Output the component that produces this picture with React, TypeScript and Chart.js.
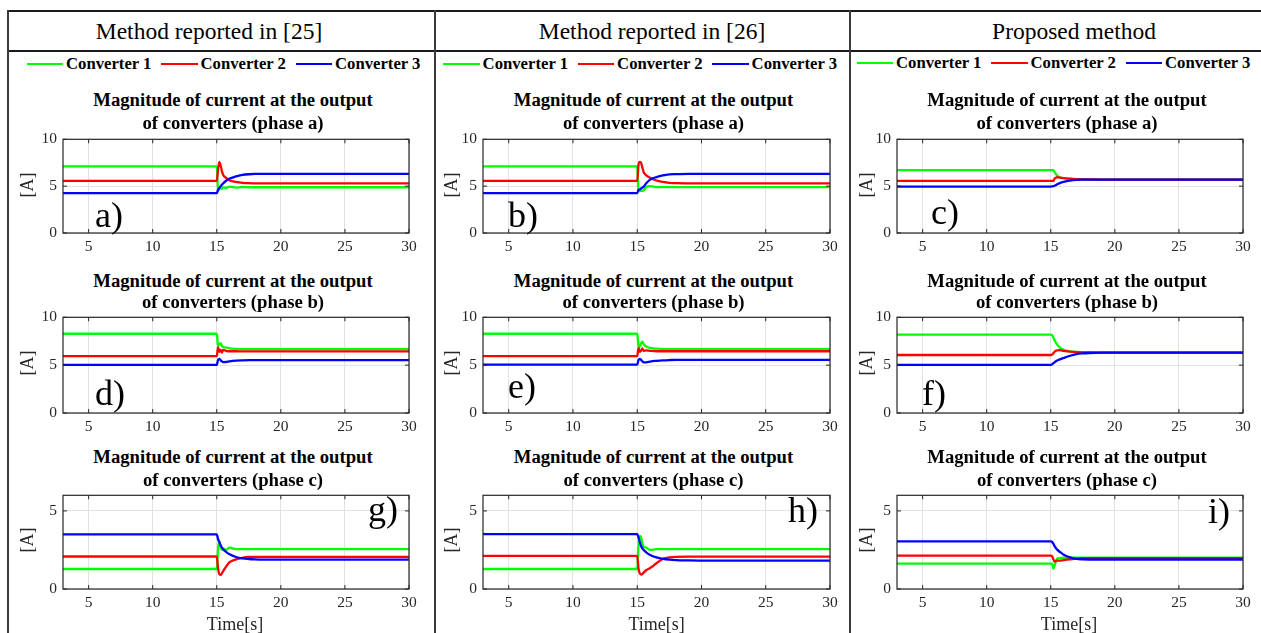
import React, { useEffect, useRef } from "react";
import { Chart, registerables } from "chart.js";

Chart.register(...registerables);

// ---------- data ----------
const TIME = [3, 15, 15.1, 15.2, 15.3, 15.4, 15.5, 15.7, 16, 16.5, 17, 17.5, 18, 19, 20, 30];
const X_TICKS = [5, 10, 15, 20, 25, 30];
const Y_TICKS_AB = [0, 5, 10];
const Y_TICKS_C = [0, 5];
const SERIES_NAMES = ["Converter 1", "Converter 2", "Converter 3"];
const COLUMN_HEADERS = ["Method reported in [25]", "Method reported in [26]", "Proposed method"];
const PHASE_TITLES = [
  ["Magnitude of current at the output", "of converters (phase a)"],
  ["Magnitude of current at the output", "of converters (phase b)"],
  ["Magnitude of current at the output", "of converters (phase c)"],
];
const PANEL_LETTERS = ["a)", "b)", "c)", "d)", "e)", "f)", "g)", "h)", "i)"];
const Y_LABEL = "[A]";
const X_LABEL = "Time[s]";

// panel a (method [25], phase a)
const A_CONV1 = [7.1, 7.1, 4.5, 4.7, 4.95, 4.7, 4.9, 4.8, 4.95, 4.85, 4.9, 4.88, 4.88, 4.88, 4.88, 4.88];
const A_CONV2 = [5.56, 5.56, 6.8, 7.6, 7.2, 6.6, 6.2, 5.9, 5.6, 5.45, 5.36, 5.32, 5.3, 5.3, 5.3, 5.3];
const A_CONV3 = [4.26, 4.26, 4.6, 4.8, 5.0, 5.15, 5.3, 5.55, 5.8, 6.05, 6.2, 6.27, 6.3, 6.31, 6.31, 6.31];
// panel b (method [26], phase a)
const B_CONV1 = [7.1, 7.1, 4.45, 4.5, 4.5, 4.5, 4.55, 4.9, 5.0, 4.9, 4.9, 4.9, 4.9, 4.9, 4.9, 4.9];
const B_CONV2 = [5.56, 5.56, 7.3, 7.6, 7.5, 7.0, 6.5, 6.15, 5.9, 5.6, 5.45, 5.36, 5.32, 5.3, 5.29, 5.29];
const B_CONV3 = [4.26, 4.26, 4.6, 4.65, 4.75, 4.85, 4.95, 5.3, 5.7, 5.97, 6.15, 6.25, 6.28, 6.31, 6.31, 6.31];
// panel c (proposed, phase a)
const C_CONV1 = [6.72, 6.72, 6.72, 6.72, 6.5, 6.3, 6.12, 5.95, 5.85, 5.78, 5.74, 5.72, 5.7, 5.7, 5.7, 5.7];
const C_CONV2 = [5.56, 5.56, 5.56, 5.56, 5.8, 5.9, 5.95, 5.9, 5.85, 5.8, 5.76, 5.73, 5.72, 5.7, 5.7, 5.7];
const C_CONV3 = [4.95, 4.95, 4.97, 5.0, 5.05, 5.12, 5.2, 5.33, 5.46, 5.6, 5.67, 5.69, 5.7, 5.7, 5.7, 5.7];
// panel d (method [25], phase b)
const D_CONV1 = [8.28, 8.28, 7.0, 7.2, 7.3, 7.0, 6.9, 6.85, 6.75, 6.7, 6.68, 6.68, 6.68, 6.68, 6.68, 6.68];
const D_CONV2 = [5.94, 5.94, 6.85, 6.4, 6.6, 6.3, 6.6, 6.5, 6.45, 6.45, 6.44, 6.44, 6.44, 6.44, 6.44, 6.44];
const D_CONV3 = [5.03, 5.03, 5.55, 5.65, 5.5, 5.4, 5.32, 5.33, 5.4, 5.47, 5.5, 5.52, 5.53, 5.53, 5.53, 5.53];
// panel e (method [26], phase b)
const E_CONV1 = [8.28, 8.28, 7.0, 6.9, 7.3, 7.45, 7.2, 6.95, 6.8, 6.72, 6.68, 6.68, 6.68, 6.68, 6.68, 6.68];
const E_CONV2 = [5.94, 5.94, 6.8, 6.4, 6.5, 6.75, 6.5, 6.55, 6.5, 6.45, 6.45, 6.45, 6.45, 6.45, 6.45, 6.45];
const E_CONV3 = [5.05, 5.05, 5.55, 5.65, 5.55, 5.4, 5.3, 5.3, 5.38, 5.45, 5.5, 5.53, 5.55, 5.55, 5.55, 5.55];
// panel f (proposed, phase b)
const F_CONV1 = [8.2, 8.2, 8.15, 7.9, 7.6, 7.35, 7.15, 6.85, 6.6, 6.45, 6.38, 6.34, 6.32, 6.3, 6.3, 6.3];
const F_CONV2 = [6.06, 6.06, 6.1, 6.25, 6.4, 6.5, 6.55, 6.56, 6.5, 6.42, 6.37, 6.34, 6.32, 6.3, 6.3, 6.3];
const F_CONV3 = [5.02, 5.02, 5.08, 5.2, 5.3, 5.4, 5.48, 5.6, 5.75, 5.98, 6.15, 6.23, 6.27, 6.3, 6.3, 6.3];
// panel g (method [25], phase c)
const G_CONV1 = [1.28, 1.28, 2.6, 3.05, 2.7, 2.5, 2.6, 2.5, 2.65, 2.55, 2.55, 2.55, 2.55, 2.55, 2.55, 2.55];
const G_CONV2 = [2.08, 2.08, 1.3, 0.95, 0.9, 1.0, 1.15, 1.4, 1.72, 1.9, 2.0, 2.05, 2.06, 2.06, 2.06, 2.06];
const G_CONV3 = [3.5, 3.5, 3.2, 3.0, 2.8, 2.65, 2.55, 2.4, 2.22, 2.05, 1.96, 1.92, 1.9, 1.88, 1.88, 1.88];
// panel h (method [26], phase c)
const H_CONV1 = [1.28, 1.28, 2.8, 3.4, 3.3, 2.9, 2.7, 2.65, 2.5, 2.55, 2.55, 2.55, 2.55, 2.55, 2.55, 2.55];
const H_CONV2 = [2.12, 2.12, 1.3, 1.0, 0.93, 0.95, 1.05, 1.2, 1.34, 1.65, 1.93, 2.02, 2.06, 2.07, 2.07, 2.07];
const H_CONV3 = [3.52, 3.52, 3.3, 3.0, 2.75, 2.6, 2.5, 2.35, 2.18, 2.02, 1.93, 1.88, 1.85, 1.83, 1.82, 1.82];
// panel i (proposed, phase c)
const I_CONV1 = [1.62, 1.62, 1.62, 1.3, 1.5, 1.75, 1.95, 1.98, 2.0, 2.0, 2.0, 2.0, 2.0, 2.0, 2.0, 2.0];
const I_CONV2 = [2.14, 2.14, 2.1, 1.9, 1.75, 1.8, 1.82, 1.82, 1.85, 1.9, 1.95, 1.97, 1.98, 1.98, 1.98, 1.98];
const I_CONV3 = [3.05, 3.05, 3.02, 2.9, 2.75, 2.62, 2.52, 2.38, 2.2, 2.03, 1.93, 1.9, 1.89, 1.89, 1.89, 1.89];

const PANEL_SERIES = [
  [A_CONV1, A_CONV2, A_CONV3],
  [B_CONV1, B_CONV2, B_CONV3],
  [C_CONV1, C_CONV2, C_CONV3],
  [D_CONV1, D_CONV2, D_CONV3],
  [E_CONV1, E_CONV2, E_CONV3],
  [F_CONV1, F_CONV2, F_CONV3],
  [G_CONV1, G_CONV2, G_CONV3],
  [H_CONV1, H_CONV2, H_CONV3],
  [I_CONV1, I_CONV2, I_CONV3],
];

// ---------- styles / layout ----------
const COLORS = ["#00ff00", "#ff0000", "#0000ff"];
const SERIF = '"Liberation Serif", "Times New Roman", Times, serif';
const AXIS_COLOR = "#262626";
const GRID_COLOR = "#e2e2e2";

const COL_BOX = [[63, 409], [483, 830], [897, 1243]];
const ROW_BOX = [[136, 233], [313.5, 412.5], [491.5, 588]];
const ROW_TITLE_Y = [[100.5, 123], [281.5, 302.5], [457, 480]];
const COL_TITLE_X = [233, 653.5, 1067];
const YLABEL_X = [27, 451, 866];
const HEADER_X = [209, 652, 1074];
const LEGEND_LEFT = [26.7, 443.3, 856.7];
const LEGEND_Y = [64.3, 64.3, 62.7];
const XLABEL_X = [235, 656.7, 1069];
const LETTER_POS = [
  [95, 227], [508, 227], [931, 224],
  [95, 405], [508, 398], [922, 405],
  [368, 521], [788, 522], [1208, 523.5],
];

const PAD_L = 50, PAD_T = 12, PAD_R = 18, PAD_B = 26;

const boxPlugin = {
  id: "matlabBox",
  afterDatasetsDraw(chart: any) {
    const { ctx, chartArea } = chart;
    const { left, top, right, bottom } = chartArea;
    ctx.save();
    ctx.strokeStyle = AXIS_COLOR;
    ctx.lineWidth = 1.2;
    ctx.strokeRect(left, top, right - left, bottom - top);
    const xs = chart.scales.x, ys = chart.scales.y;
    ctx.lineWidth = 1;
    ctx.beginPath();
    xs.ticks.forEach((t: any) => {
      const px = xs.getPixelForValue(t.value);
      ctx.moveTo(px, bottom); ctx.lineTo(px, bottom - 4);
      ctx.moveTo(px, top); ctx.lineTo(px, top + 4);
    });
    ys.ticks.forEach((t: any) => {
      const py = ys.getPixelForValue(t.value);
      ctx.moveTo(left, py); ctx.lineTo(left + 4, py);
      ctx.moveTo(right, py); ctx.lineTo(right - 4, py);
    });
    ctx.stroke();
    ctx.restore();
  },
};

function Panel({ idx }: { idx: number }) {
  const ref = useRef<HTMLCanvasElement>(null);
  const col = idx % 3, row = Math.floor(idx / 3);
  const [l, r] = COL_BOX[col];
  const [t, b] = ROW_BOX[row];
  const w = Math.round(r - l) + PAD_L + PAD_R;
  const h = Math.round(b - t) + PAD_T + PAD_B;
  const ymax = row === 2 ? 6 : 10;
  const yticks = row === 2 ? Y_TICKS_C : Y_TICKS_AB;

  useEffect(() => {
    const series = PANEL_SERIES[idx];
    const chart = new Chart(ref.current as HTMLCanvasElement, {
      type: "line",
      data: {
        datasets: series.map((vals, i) => ({
          label: SERIES_NAMES[i],
          data: TIME.map((x, k) => ({ x, y: vals[k] })),
          borderColor: COLORS[i],
          backgroundColor: COLORS[i],
          borderWidth: 2.3,
          pointRadius: 0,
          fill: false,
          cubicInterpolationMode: "monotone",
          order: 2 - i,
        })),
      },
      options: {
        animation: false,
        responsive: false,
        events: [],
        layout: { padding: { top: PAD_T, right: PAD_R, left: 0, bottom: 0 } },
        plugins: { legend: { display: false }, tooltip: { enabled: false }, title: { display: false } },
        scales: {
          x: {
            type: "linear",
            min: 3,
            max: 30,
            afterBuildTicks: (s: any) => { s.ticks = X_TICKS.map((v) => ({ value: v })); },
            afterFit: (s: any) => { s.height = PAD_B; },
            grid: { color: GRID_COLOR, drawTicks: false, lineWidth: 1 },
            border: { display: false },
            ticks: { padding: 5, color: AXIS_COLOR, font: { family: SERIF, size: 15.5 }, maxRotation: 0, autoSkip: false },
          },
          y: {
            type: "linear",
            min: 0,
            max: ymax,
            afterBuildTicks: (s: any) => { s.ticks = yticks.map((v) => ({ value: v })); },
            afterFit: (s: any) => { s.width = PAD_L; },
            grid: { color: GRID_COLOR, drawTicks: false, lineWidth: 1 },
            border: { display: false },
            ticks: { padding: 6, color: AXIS_COLOR, font: { family: SERIF, size: 15.5 }, autoSkip: false },
          },
        },
      } as any,
      plugins: [boxPlugin],
    });
    return () => chart.destroy();
  }, [idx]);

  return (
    <canvas
      ref={ref}
      width={w}
      height={h}
      style={{ position: "absolute", left: l - PAD_L, top: t - PAD_T, width: w, height: h }}
    />
  );
}

function Txt({ x, y, fs, bold, center, children, color }: any) {
  return (
    <div
      style={{
        position: "absolute",
        left: x,
        top: y - fs / 2,
        fontSize: fs,
        lineHeight: 1,
        fontFamily: SERIF,
        fontWeight: bold ? 700 : 400,
        whiteSpace: "nowrap",
        transform: center ? "translateX(-50%)" : undefined,
        color: color || "#000",
      }}
    >
      {children}
    </div>
  );
}

function Line({ x1, y1, x2, y2, w, color }: any) {
  return (
    <div
      style={{
        position: "absolute",
        left: Math.min(x1, x2) - (x1 === x2 ? w / 2 : 0),
        top: Math.min(y1, y2) - (y1 === y2 ? w / 2 : 0),
        width: x1 === x2 ? w : Math.abs(x2 - x1),
        height: y1 === y2 ? w : Math.abs(y2 - y1),
        background: color,
      }}
    />
  );
}

export default function App() {
  return (
    <div style={{ position: "fixed", left: 0, top: 0, width: 1261, height: 633, overflow: "hidden", background: "#fff" }}>
      {/* table frame */}
      <Line x1={7} y1={11} x2={1261} y2={11} w={2} color="#1a1a1a" />
      <Line x1={7} y1={51} x2={1261} y2={51} w={2} color="#1a1a1a" />
      <Line x1={7.7} y1={10} x2={7.7} y2={633} w={2} color="#3a3a3a" />
      <Line x1={435} y1={10} x2={435} y2={633} w={2} color="#3a3a3a" />
      <Line x1={849.5} y1={10} x2={849.5} y2={633} w={2} color="#3a3a3a" />

      {COLUMN_HEADERS.map((hname, c) => (
        <Txt key={"h" + c} x={HEADER_X[c]} y={31.5} fs={23.5} center>{hname}</Txt>
      ))}

      {/* legends */}
      {LEGEND_LEFT.map((gl, c) => (
        <React.Fragment key={"lg" + c}>
          {SERIES_NAMES.map((name, i) => (
            <React.Fragment key={"li" + i}>
              <Line x1={gl + i * 134.5} y1={LEGEND_Y[c]} x2={gl + i * 134.5 + 36.6} y2={LEGEND_Y[c]} w={2.3} color={COLORS[i]} />
              <Txt x={gl + i * 134.5 + 39.3} y={LEGEND_Y[c] + 0.5} fs={16.7} bold>{name}</Txt>
            </React.Fragment>
          ))}
        </React.Fragment>
      ))}

      {/* panels */}
      {PANEL_SERIES.map((_, idx) => <Panel key={"p" + idx} idx={idx} />)}

      {/* panel titles */}
      {PANEL_SERIES.map((_, idx) => {
        const col = idx % 3, row = Math.floor(idx / 3);
        return (
          <React.Fragment key={"t" + idx}>
            <Txt x={COL_TITLE_X[col]} y={ROW_TITLE_Y[row][0]} fs={18.7} bold center>{PHASE_TITLES[row][0]}</Txt>
            <Txt x={COL_TITLE_X[col]} y={ROW_TITLE_Y[row][1]} fs={18.7} bold center>{PHASE_TITLES[row][1]}</Txt>
          </React.Fragment>
        );
      })}

      {/* y labels */}
      {PANEL_SERIES.map((_, idx) => {
        const col = idx % 3, row = Math.floor(idx / 3);
        const cy = (ROW_BOX[row][0] + ROW_BOX[row][1]) / 2;
        return (
          <div
            key={"yl" + idx}
            style={{
              position: "absolute",
              left: YLABEL_X[col],
              top: cy,
              fontSize: 18,
              lineHeight: 1,
              fontFamily: SERIF,
              color: AXIS_COLOR,
              whiteSpace: "nowrap",
              transform: "translate(-50%, -50%) rotate(-90deg)",
            }}
          >
            {Y_LABEL}
          </div>
        );
      })}

      {/* x labels */}
      {XLABEL_X.map((x, c) => (
        <Txt key={"xl" + c} x={x} y={624} fs={18} center color={AXIS_COLOR}>{X_LABEL}</Txt>
      ))}

      {/* panel letters */}
      {PANEL_LETTERS.map((letter, idx) => (
        <div
          key={"lt" + idx}
          style={{
            position: "absolute",
            left: LETTER_POS[idx][0],
            top: LETTER_POS[idx][1] - 0.8375 * 36,
            fontSize: 36,
            lineHeight: 1,
            fontFamily: SERIF,
            color: "#000",
          }}
        >
          {letter}
        </div>
      ))}
    </div>
  );
}
